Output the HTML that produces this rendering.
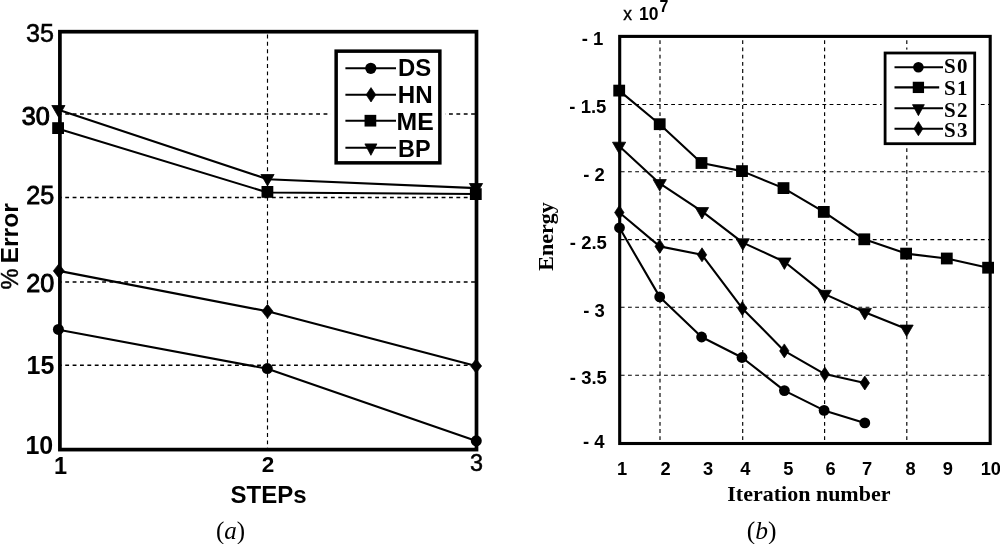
<!DOCTYPE html>
<html lang="en">
<head>
<meta charset="utf-8">
<title>Error vs steps and energy vs iteration</title>
<style>
html,body{margin:0;padding:0;background:#fff;}
body{width:1000px;height:544px;overflow:hidden;}
svg{display:block;}
text{fill:#000;}
</style>
</head>
<body>
<svg width="1000" height="544" viewBox="0 0 1000 544">
<rect x="0" y="0" width="1000" height="544" fill="#fff"/>
<line x1="59.9" y1="114" x2="476.5" y2="114" stroke="#000" stroke-width="1.45" stroke-dasharray="3.85 3.53" stroke-dashoffset="2.04"/>
<line x1="59.9" y1="197.4" x2="476.5" y2="197.4" stroke="#000" stroke-width="1.45" stroke-dasharray="3.85 3.53" stroke-dashoffset="2.04"/>
<line x1="59.9" y1="281.9" x2="476.5" y2="281.9" stroke="#000" stroke-width="1.45" stroke-dasharray="3.85 3.53" stroke-dashoffset="2.04"/>
<line x1="59.9" y1="365.2" x2="476.5" y2="365.2" stroke="#000" stroke-width="1.45" stroke-dasharray="3.85 3.53" stroke-dashoffset="2.04"/>
<line x1="267.5" y1="31.7" x2="267.5" y2="449.6" stroke="#000" stroke-width="1.15" stroke-dasharray="3.9 3.48" stroke-dashoffset="4.6"/>
<polyline points="59.9,110.3 267.5,179.2 476.5,188.1" fill="none" stroke="#000" stroke-width="2.1" stroke-linejoin="round"/>
<polyline points="59.9,129.3 267.5,192.5 476.5,194" fill="none" stroke="#000" stroke-width="2.1" stroke-linejoin="round"/>
<polyline points="58.8,270.9 267.5,311.3 476.1,366" fill="none" stroke="#000" stroke-width="2.1" stroke-linejoin="round"/>
<polyline points="59.9,330 267.4,368.7 476.4,440.9" fill="none" stroke="#000" stroke-width="2.1" stroke-linejoin="round"/>
<rect x="59.9" y="31.7" width="416.6" height="417.9" fill="none" stroke="#000" stroke-width="3.7"/>
<polygon points="51.8,105.5 65,105.5 58.4,116.9" fill="#000" stroke="#000" stroke-width="0.8" stroke-linejoin="round"/>
<polygon points="260.9,174.5 274.1,174.5 267.5,185.9" fill="#000" stroke="#000" stroke-width="0.8" stroke-linejoin="round"/>
<polygon points="469.4,183.5 482.6,183.5 476,194.9" fill="#000" stroke="#000" stroke-width="0.8" stroke-linejoin="round"/>
<rect x="52.2" y="122.2" width="11.8" height="11.8" fill="#000"/>
<rect x="261.5" y="186" width="11.8" height="11.8" fill="#000"/>
<rect x="469.9" y="188.2" width="11.8" height="11.8" fill="#000"/>
<polygon points="58.8,263.9 64.3,270.9 58.8,277.9 53.3,270.9" fill="#000" stroke="#000" stroke-width="0.7" stroke-linejoin="round"/>
<polygon points="267.5,304.3 273,311.3 267.5,318.3 262,311.3" fill="#000" stroke="#000" stroke-width="0.7" stroke-linejoin="round"/>
<polygon points="476.1,359 481.6,366 476.1,373 470.6,366" fill="#000" stroke="#000" stroke-width="0.7" stroke-linejoin="round"/>
<circle cx="58.4" cy="329.4" r="5.5" fill="#000"/>
<circle cx="267.3" cy="368.6" r="5.5" fill="#000"/>
<circle cx="476.3" cy="440.8" r="5.5" fill="#000"/>
<rect x="330.4" y="46.4" width="115.2" height="121.2" fill="#fff"/>
<rect x="336.15" y="51.15" width="103.7" height="111.7" fill="#fff" stroke="#000" stroke-width="3.5"/>
<line x1="345.4" y1="68.3" x2="396" y2="68.3" stroke="#000" stroke-width="2.1" />
<line x1="345.4" y1="94.8" x2="396" y2="94.8" stroke="#000" stroke-width="2.1" />
<line x1="345.4" y1="120.7" x2="396" y2="120.7" stroke="#000" stroke-width="2.1" />
<line x1="345.4" y1="147.7" x2="396" y2="147.7" stroke="#000" stroke-width="2.1" />
<circle cx="370.8" cy="68.3" r="5.6" fill="#000"/>
<polygon points="371,87.6 375.8,94.8 371,102 366.2,94.8" fill="#000" stroke="#000" stroke-width="0.7" stroke-linejoin="round"/>
<rect x="364.55" y="114.85" width="11.7" height="11.7" fill="#000"/>
<polygon points="364.9,143.9 376.9,143.9 370.9,155.3" fill="#000" stroke="#000" stroke-width="0.8" stroke-linejoin="round"/>
<text x="398" y="76.3" font-family='"Liberation Sans", Arial, Helvetica, sans-serif' font-size="23.4" font-weight="bold" text-anchor="start" textLength="33.2" lengthAdjust="spacingAndGlyphs" style="">DS</text>
<text x="397.8" y="103.3" font-family='"Liberation Sans", Arial, Helvetica, sans-serif' font-size="23.4" font-weight="bold" text-anchor="start" textLength="34.9" lengthAdjust="spacingAndGlyphs" style="">HN</text>
<text x="396.6" y="130.4" font-family='"Liberation Sans", Arial, Helvetica, sans-serif' font-size="23.4" font-weight="bold" text-anchor="start" textLength="37.2" lengthAdjust="spacingAndGlyphs" style="">ME</text>
<text x="398" y="157.1" font-family='"Liberation Sans", Arial, Helvetica, sans-serif' font-size="23.4" font-weight="bold" text-anchor="start" textLength="32.6" lengthAdjust="spacingAndGlyphs" style="">BP</text>
<text x="54" y="42" font-family='"Liberation Sans", Arial, Helvetica, sans-serif' font-size="25.2" font-weight="normal" text-anchor="end"  style="stroke:#000;stroke-width:0.5px">35</text>
<text x="49.9" y="125.4" font-family='"Liberation Sans", Arial, Helvetica, sans-serif' font-size="25.2" font-weight="normal" text-anchor="end"  style="stroke:#000;stroke-width:1.0px">30</text>
<text x="54.2" y="204" font-family='"Liberation Sans", Arial, Helvetica, sans-serif' font-size="25.2" font-weight="normal" text-anchor="end"  style="stroke:#000;stroke-width:0.8px">25</text>
<text x="54.2" y="292.1" font-family='"Liberation Sans", Arial, Helvetica, sans-serif' font-size="25.2" font-weight="normal" text-anchor="end"  style="stroke:#000;stroke-width:0.9px">20</text>
<text x="54.4" y="374" font-family='"Liberation Sans", Arial, Helvetica, sans-serif' font-size="25" font-weight="bold" text-anchor="end"  style="">15</text>
<text x="53.2" y="453.5" font-family='"Liberation Sans", Arial, Helvetica, sans-serif' font-size="25" font-weight="bold" text-anchor="end"  style="">10</text>
<text x="60.6" y="473.7" font-family='"Liberation Sans", Arial, Helvetica, sans-serif' font-size="23.5" font-weight="bold" text-anchor="middle"  style="">1</text>
<text x="267.9" y="472" font-family='"Liberation Sans", Arial, Helvetica, sans-serif' font-size="22.5" font-weight="bold" text-anchor="middle"  style="">2</text>
<text x="476.5" y="471" font-family='"Liberation Sans", Arial, Helvetica, sans-serif' font-size="23.4" font-weight="normal" text-anchor="middle"  style="stroke:#000;stroke-width:0.5px">3</text>
<text x="268.5" y="503.1" font-family='"Liberation Sans", Arial, Helvetica, sans-serif' font-size="24" font-weight="bold" text-anchor="middle"  style="">STEPs</text>
<text transform="translate(17.6,289.6) rotate(-90)" font-family='"Liberation Sans", Arial, Helvetica, sans-serif' font-size="23.6" font-weight="normal" style="stroke:#000;stroke-width:0.4px">%</text>
<text transform="translate(17.6,263.4) rotate(-90)" font-family='"Liberation Sans", Arial, Helvetica, sans-serif' font-size="23.6" font-weight="bold" textLength="60.2" lengthAdjust="spacingAndGlyphs">Error</text>
<text x="230.6" y="538.5" font-family='"Liberation Serif", "Times New Roman", Times, serif' font-size="25" text-anchor="middle">(<tspan font-style="italic">a</tspan>)</text>
<line x1="619.7" y1="104.5" x2="990.2" y2="104.5" stroke="#000" stroke-width="1.1" stroke-dasharray="3.8 3.4" stroke-dashoffset="6.1"/>
<line x1="619.7" y1="171.8" x2="990.2" y2="171.8" stroke="#000" stroke-width="1.1" stroke-dasharray="3.8 3.4" stroke-dashoffset="6.1"/>
<line x1="619.7" y1="239.6" x2="990.2" y2="239.6" stroke="#000" stroke-width="1.1" stroke-dasharray="3.8 3.4" stroke-dashoffset="6.1"/>
<line x1="619.7" y1="307.2" x2="990.2" y2="307.2" stroke="#000" stroke-width="1.1" stroke-dasharray="3.8 3.4" stroke-dashoffset="6.1"/>
<line x1="619.7" y1="375.3" x2="990.2" y2="375.3" stroke="#000" stroke-width="1.1" stroke-dasharray="3.8 3.4" stroke-dashoffset="6.1"/>
<line x1="660" y1="36.4" x2="660" y2="443.5" stroke="#000" stroke-width="1.15" stroke-dasharray="3.8 3.4" stroke-dashoffset="3.3"/>
<line x1="742.7" y1="36.4" x2="742.7" y2="443.5" stroke="#000" stroke-width="1.15" stroke-dasharray="3.8 3.4" stroke-dashoffset="3.3"/>
<line x1="824.6" y1="36.4" x2="824.6" y2="443.5" stroke="#000" stroke-width="1.15" stroke-dasharray="3.8 3.4" stroke-dashoffset="3.3"/>
<line x1="906.8" y1="36.4" x2="906.8" y2="443.5" stroke="#000" stroke-width="1.15" stroke-dasharray="3.8 3.4" stroke-dashoffset="3.3"/>
<polyline points="619.2,90.6 659.7,124.2 701.5,163 742,171.1 783.5,188.1 823.8,211.9 864.3,239.3 906.1,253.6 946.8,258.5 988.1,267.7" fill="none" stroke="#000" stroke-width="2.1" stroke-linejoin="round"/>
<polyline points="619.1,146 659.7,183.4 702,211.4 742.8,242.6 784.4,261.8 824.8,294.1 864.8,312.2 906.6,328.9" fill="none" stroke="#000" stroke-width="2.1" stroke-linejoin="round"/>
<polyline points="619.3,212.5 659.7,246.4 702,254.8 742.3,308.4 784.3,350.9 824.8,374.1 864.8,383" fill="none" stroke="#000" stroke-width="2.1" stroke-linejoin="round"/>
<polyline points="619.5,227.8 659.7,296.9 701.6,337 742,357.5 784.4,390.6 824.1,410.4 864.8,422.9" fill="none" stroke="#000" stroke-width="2.1" stroke-linejoin="round"/>
<rect x="619.7" y="36.4" width="370.5" height="407.1" fill="none" stroke="#000" stroke-width="3.1"/>
<rect x="613.3" y="84.7" width="11.8" height="11.8" fill="#000"/>
<rect x="653.8" y="118.3" width="11.8" height="11.8" fill="#000"/>
<rect x="695.6" y="157.1" width="11.8" height="11.8" fill="#000"/>
<rect x="736.1" y="165.2" width="11.8" height="11.8" fill="#000"/>
<rect x="777.6" y="182.2" width="11.8" height="11.8" fill="#000"/>
<rect x="817.9" y="206" width="11.8" height="11.8" fill="#000"/>
<rect x="858.4" y="233.4" width="11.8" height="11.8" fill="#000"/>
<rect x="900.2" y="247.7" width="11.8" height="11.8" fill="#000"/>
<rect x="940.9" y="252.6" width="11.8" height="11.8" fill="#000"/>
<rect x="982.2" y="261.8" width="11.8" height="11.8" fill="#000"/>
<polygon points="612.5,142.2 625.7,142.2 619.1,153.6" fill="#000" stroke="#000" stroke-width="0.8" stroke-linejoin="round"/>
<polygon points="653.1,179.6 666.3,179.6 659.7,191" fill="#000" stroke="#000" stroke-width="0.8" stroke-linejoin="round"/>
<polygon points="695.4,207.6 708.6,207.6 702,219" fill="#000" stroke="#000" stroke-width="0.8" stroke-linejoin="round"/>
<polygon points="736.2,238.8 749.4,238.8 742.8,250.2" fill="#000" stroke="#000" stroke-width="0.8" stroke-linejoin="round"/>
<polygon points="777.8,258 791,258 784.4,269.4" fill="#000" stroke="#000" stroke-width="0.8" stroke-linejoin="round"/>
<polygon points="818.2,290.3 831.4,290.3 824.8,301.7" fill="#000" stroke="#000" stroke-width="0.8" stroke-linejoin="round"/>
<polygon points="858.2,308.4 871.4,308.4 864.8,319.8" fill="#000" stroke="#000" stroke-width="0.8" stroke-linejoin="round"/>
<polygon points="900,325.1 913.2,325.1 906.6,336.5" fill="#000" stroke="#000" stroke-width="0.8" stroke-linejoin="round"/>
<polygon points="619.3,205.5 624,212.5 619.3,219.5 614.6,212.5" fill="#000" stroke="#000" stroke-width="0.7" stroke-linejoin="round"/>
<polygon points="659.7,239.4 664.4,246.4 659.7,253.4 655,246.4" fill="#000" stroke="#000" stroke-width="0.7" stroke-linejoin="round"/>
<polygon points="702,247.8 706.7,254.8 702,261.8 697.3,254.8" fill="#000" stroke="#000" stroke-width="0.7" stroke-linejoin="round"/>
<polygon points="742.3,301.4 747,308.4 742.3,315.4 737.6,308.4" fill="#000" stroke="#000" stroke-width="0.7" stroke-linejoin="round"/>
<polygon points="784.3,343.9 789,350.9 784.3,357.9 779.6,350.9" fill="#000" stroke="#000" stroke-width="0.7" stroke-linejoin="round"/>
<polygon points="824.8,367.1 829.5,374.1 824.8,381.1 820.1,374.1" fill="#000" stroke="#000" stroke-width="0.7" stroke-linejoin="round"/>
<polygon points="864.8,376 869.5,383 864.8,390 860.1,383" fill="#000" stroke="#000" stroke-width="0.7" stroke-linejoin="round"/>
<circle cx="619.5" cy="227.8" r="5.4" fill="#000"/>
<circle cx="659.7" cy="296.9" r="5.4" fill="#000"/>
<circle cx="701.6" cy="337" r="5.4" fill="#000"/>
<circle cx="742" cy="357.5" r="5.4" fill="#000"/>
<circle cx="784.4" cy="390.6" r="5.4" fill="#000"/>
<circle cx="824.1" cy="410.4" r="5.4" fill="#000"/>
<circle cx="864.8" cy="422.9" r="5.4" fill="#000"/>
<rect x="881.7" y="49.6" width="96.4" height="97.5" fill="#fff"/>
<rect x="885.1" y="53" width="89.6" height="90.7" fill="#fff" stroke="#000" stroke-width="2.8"/>
<line x1="894.5" y1="67.2" x2="943" y2="67.2" stroke="#000" stroke-width="2.1" />
<line x1="894.5" y1="87.4" x2="939.2" y2="87.4" stroke="#000" stroke-width="2.1" />
<line x1="894.5" y1="108.3" x2="943" y2="108.3" stroke="#000" stroke-width="2.1" />
<line x1="894.5" y1="128.7" x2="943" y2="128.7" stroke="#000" stroke-width="2.1" />
<circle cx="918.4" cy="67.2" r="5.3" fill="#000"/>
<rect x="912.75" y="81.75" width="11.3" height="11.3" fill="#000"/>
<polygon points="912.5,104.63 924.3,104.63 918.4,115.63" fill="#000" stroke="#000" stroke-width="0.8" stroke-linejoin="round"/>
<polygon points="918.4,121.6 922.9,128.7 918.4,135.8 913.9,128.7" fill="#000" stroke="#000" stroke-width="0.7" stroke-linejoin="round"/>
<text x="944" y="73.2" font-family='"Liberation Serif", "Times New Roman", Times, serif' font-size="21" font-weight="bold" text-anchor="start" letter-spacing="1.4" style="">S0</text>
<text x="944" y="95.1" font-family='"Liberation Serif", "Times New Roman", Times, serif' font-size="21" font-weight="bold" text-anchor="start" letter-spacing="1.4" style="">S1</text>
<text x="944" y="117.4" font-family='"Liberation Serif", "Times New Roman", Times, serif' font-size="21" font-weight="bold" text-anchor="start" letter-spacing="1.4" style="">S2</text>
<text x="944" y="137.1" font-family='"Liberation Serif", "Times New Roman", Times, serif' font-size="21" font-weight="bold" text-anchor="start" letter-spacing="1.4" style="">S3</text>
<text x="603.4" y="45.4" font-family='"Liberation Sans", Arial, Helvetica, sans-serif' font-size="18.5" font-weight="bold" text-anchor="end"  style="">- 1</text>
<text x="606.4" y="113.4" font-family='"Liberation Sans", Arial, Helvetica, sans-serif' font-size="18.5" font-weight="bold" text-anchor="end"  style="">- 1.5</text>
<text x="604.8" y="180.7" font-family='"Liberation Sans", Arial, Helvetica, sans-serif' font-size="18.5" font-weight="bold" text-anchor="end"  style="">- 2</text>
<text x="606.9" y="248.7" font-family='"Liberation Sans", Arial, Helvetica, sans-serif' font-size="18.5" font-weight="bold" text-anchor="end"  style="">- 2.5</text>
<text x="604.8" y="316.8" font-family='"Liberation Sans", Arial, Helvetica, sans-serif' font-size="18.5" font-weight="bold" text-anchor="end"  style="">- 3</text>
<text x="606.9" y="384.2" font-family='"Liberation Sans", Arial, Helvetica, sans-serif' font-size="18.5" font-weight="bold" text-anchor="end"  style="">- 3.5</text>
<text x="604.6" y="447.5" font-family='"Liberation Sans", Arial, Helvetica, sans-serif' font-size="18.5" font-weight="bold" text-anchor="end"  style="">- 4</text>
<text x="622" y="474.8" font-family='"Liberation Sans", Arial, Helvetica, sans-serif' font-size="18.3" font-weight="bold" text-anchor="middle"  style="">1</text>
<text x="665.5" y="474.8" font-family='"Liberation Sans", Arial, Helvetica, sans-serif' font-size="18.3" font-weight="bold" text-anchor="middle"  style="">2</text>
<text x="708" y="474.8" font-family='"Liberation Sans", Arial, Helvetica, sans-serif' font-size="18.3" font-weight="bold" text-anchor="middle"  style="">3</text>
<text x="745.3" y="474.8" font-family='"Liberation Sans", Arial, Helvetica, sans-serif' font-size="18.3" font-weight="bold" text-anchor="middle"  style="">4</text>
<text x="788.4" y="474.8" font-family='"Liberation Sans", Arial, Helvetica, sans-serif' font-size="18.3" font-weight="bold" text-anchor="middle"  style="">5</text>
<text x="830.7" y="474.8" font-family='"Liberation Sans", Arial, Helvetica, sans-serif' font-size="18.3" font-weight="bold" text-anchor="middle"  style="">6</text>
<text x="867" y="474.8" font-family='"Liberation Sans", Arial, Helvetica, sans-serif' font-size="18.3" font-weight="bold" text-anchor="middle"  style="">7</text>
<text x="910.5" y="474.8" font-family='"Liberation Sans", Arial, Helvetica, sans-serif' font-size="18.3" font-weight="bold" text-anchor="middle"  style="">8</text>
<text x="947.8" y="474.8" font-family='"Liberation Sans", Arial, Helvetica, sans-serif' font-size="18.3" font-weight="bold" text-anchor="middle"  style="">9</text>
<text x="990.8" y="474.8" font-family='"Liberation Sans", Arial, Helvetica, sans-serif' font-size="18.3" font-weight="bold" text-anchor="middle"  style="">10</text>
<text x="623.2" y="20.2" font-family='"Liberation Sans", Arial, Helvetica, sans-serif' font-size="17.5" font-weight="normal" text-anchor="start"  style="stroke:#000;stroke-width:0.35px">x</text>
<text x="639" y="20.2" font-family='"Liberation Sans", Arial, Helvetica, sans-serif' font-size="17.5" font-weight="bold" text-anchor="start"  style="">10</text>
<text x="659.6" y="12.4" font-family='"Liberation Sans", Arial, Helvetica, sans-serif' font-size="16" font-weight="bold" text-anchor="start"  style="">7</text>
<text x="808.9" y="501" font-family='"Liberation Serif", "Times New Roman", Times, serif' font-size="22" font-weight="bold" text-anchor="middle"  style="">Iteration number</text>
<text transform="translate(553.1,236.5) rotate(-90)" font-family='"Liberation Serif", "Times New Roman", Times, serif' font-size="22" font-weight="bold" text-anchor="middle">Energy</text>
<text x="761.6" y="539.3" font-family='"Liberation Serif", "Times New Roman", Times, serif' font-size="25.5" text-anchor="middle">(<tspan font-style="italic">b</tspan>)</text>
</svg>
</body>
</html>
